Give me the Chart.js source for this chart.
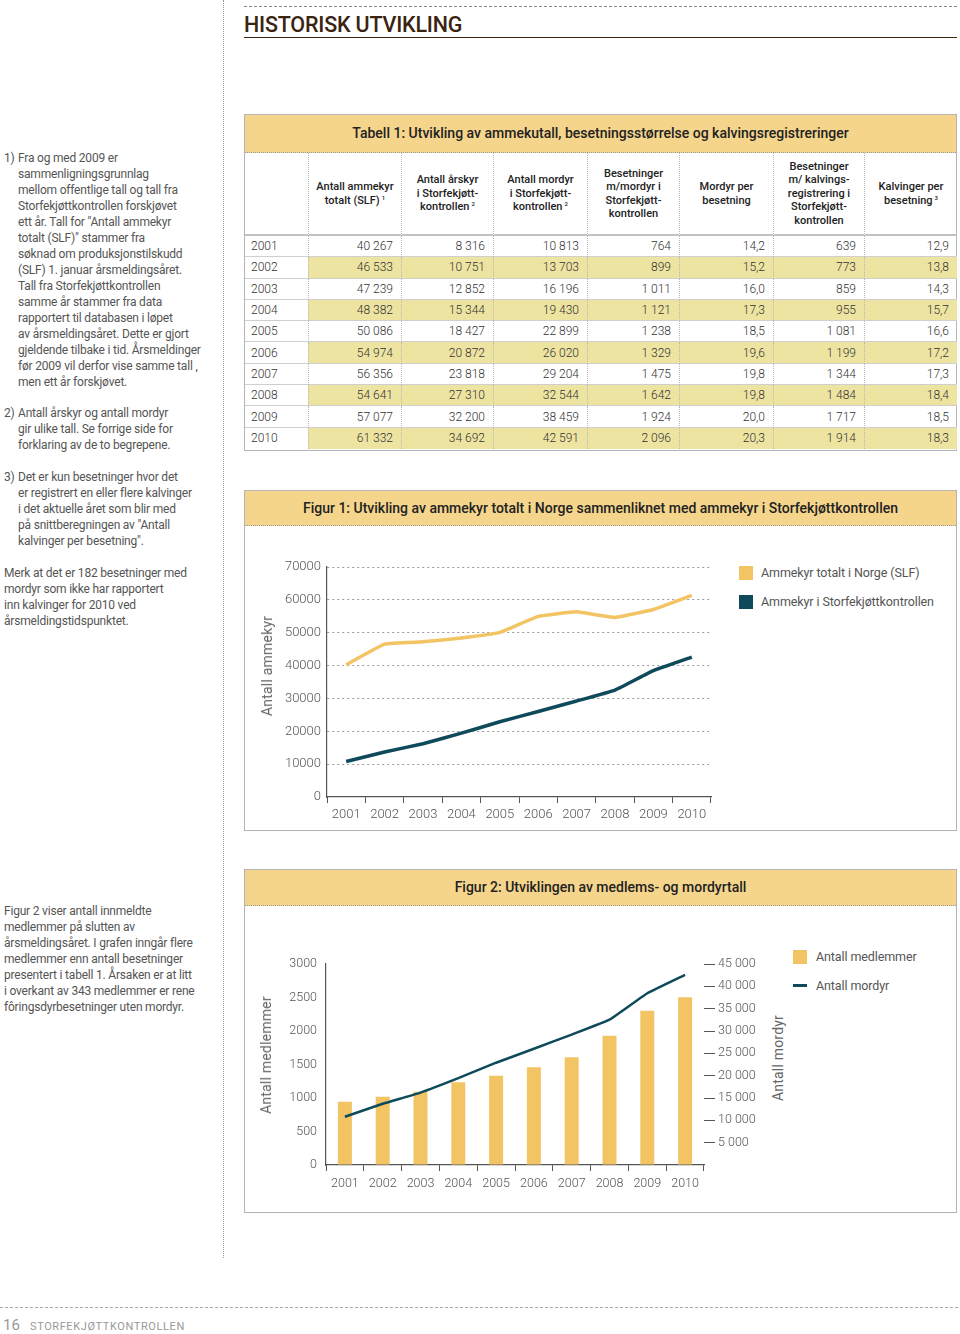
<!DOCTYPE html>
<html><head><meta charset="utf-8">
<script src="https://cdn.jsdelivr.net/npm/chart.js@4/dist/chart.umd.min.js"></script>
<style>
body{margin:0;width:960px;height:1334px;position:relative;background:#fff;font-family:Roboto,'Open Sans',sans-serif;overflow:hidden;color:#555}
.abs{position:absolute}
.txt{position:absolute;font-size:12px;line-height:16px;letter-spacing:-0.2px;color:#555;white-space:nowrap}
.txt .n{position:absolute;left:-14px}
.box{position:absolute;left:244px;width:713px;border:1.5px solid #b4b4b4;box-sizing:border-box;background:#fff}
.band{background:#f5d58c;border-bottom:1px dotted #999;text-align:center;color:#222;font-weight:500;font-size:14px;box-sizing:border-box}
#tbl{display:grid;grid-template-columns:63px 93px 92px 94px 92px 94px 91px 93px;grid-template-rows:83px repeat(10,21.3px)}
#tbl div{box-sizing:border-box;font-size:12px;color:#333;font-weight:300;display:flex;align-items:center;justify-content:flex-end;padding-right:8px}
#tbl div.h{font-size:11px;line-height:13.5px;font-weight:500;color:#222;justify-content:center;text-align:center;padding:0 2px;border-bottom:2px solid #c2c2c2}
#tbl div.yr{justify-content:flex-start;padding-left:6px}
#tbl div.d{border-bottom:1.5px solid #cfcfcf}
#tbl div.sep{border-left:1px dotted #b8b8b8}
#tbl div.alt{background:#eee4a2}
sup{font-size:6px;vertical-align:4px;line-height:0;margin-left:2px}
.leg{position:absolute;font-size:12.5px;color:#555;white-space:nowrap;letter-spacing:-0.1px}
.sw{position:absolute;width:14px;height:14px}
.atitle{position:absolute;font-size:14px;color:#666;white-space:nowrap;transform:translate(-50%,-50%) rotate(-90deg);letter-spacing:0.2px}
</style></head>
<body>
<!-- vertical dotted divider -->
<div class="abs" style="left:223px;top:0;height:1258px;border-left:1.5px dotted #999"></div>
<!-- header -->
<div class="abs" style="left:244px;top:6px;width:713px;border-top:1.5px dashed #888"></div>
<div class="abs" style="left:244px;top:12px;font-size:21.5px;font-weight:500;color:#3a2410;letter-spacing:-0.2px">HISTORISK UTVIKLING</div>
<div class="abs" style="left:244px;top:37px;width:713px;border-top:1.5px solid #3a2410"></div>

<!-- left notes -->
<div class="txt" style="left:18px;top:150px"><span class="n">1)</span>Fra og med 2009 er<br>sammenligningsgrunnlag<br>mellom offentlige tall og tall fra<br>Storfekjøttkontrollen forskjøvet<br>ett år. Tall for "Antall ammekyr<br>totalt (SLF)" stammer fra<br>søknad om produksjonstilskudd<br>(SLF) 1. januar årsmeldingsåret.<br>Tall fra Storfekjøttkontrollen<br>samme år stammer fra data<br>rapportert til databasen i løpet<br>av årsmeldingsåret. Dette er gjort<br>gjeldende tilbake i tid. Årsmeldinger<br>før 2009 vil derfor vise samme tall ,<br>men ett år forskjøvet.</div>
<div class="txt" style="left:18px;top:405px"><span class="n">2)</span>Antall årskyr og antall mordyr<br>gir ulike tall. Se forrige side for<br>forklaring av de to begrepene.</div>
<div class="txt" style="left:18px;top:469px"><span class="n">3)</span>Det er kun besetninger hvor det<br>er registrert en eller flere kalvinger<br>i det aktuelle året som blir med<br>på snittberegningen av "Antall<br>kalvinger per besetning".</div>
<div class="txt" style="left:4px;top:565px">Merk at det er 182 besetninger med<br>mordyr som ikke har rapportert<br>inn kalvinger for 2010 ved<br>årsmeldingstidspunktet.</div>
<div class="txt" style="left:4px;top:903px">Figur 2 viser antall innmeldte<br>medlemmer på slutten av<br>årsmeldingsåret. I grafen inngår flere<br>medlemmer enn antall besetninger<br>presentert i tabell 1. Årsaken er at litt<br>i overkant av 343 medlemmer er rene<br>fôringsdyrbesetninger uten mordyr.</div>

<!-- Table -->
<div class="box" style="top:114px;height:337px">
  <div class="band" style="height:38px;line-height:37px">Tabell 1: Utvikling av ammekutall, besetningsstørrelse og kalvingsregistreringer</div>
  <div id="tbl"></div>
</div>

<!-- Figure 1 -->
<div class="box" style="top:490px;height:341px">
  <div class="band" style="height:35px;line-height:34px">Figur 1: Utvikling av ammekyr totalt i Norge sammenliknet med ammekyr i Storfekjøttkontrollen</div>
</div>
<canvas id="c1" class="abs" style="left:250px;top:530px" width="470" height="300"></canvas>
<div class="atitle" style="left:267px;top:666px">Antall ammekyr</div>
<div class="sw" style="left:739px;top:566px;background:#f2c464"></div>
<div class="leg" style="left:761px;top:565px">Ammekyr totalt i Norge (SLF)</div>
<div class="sw" style="left:739px;top:595px;background:#0f4a5a"></div>
<div class="leg" style="left:761px;top:594px">Ammekyr i Storfekjøttkontrollen</div>

<!-- Figure 2 -->
<div class="box" style="top:869px;height:344px">
  <div class="band" style="height:36px;line-height:35px">Figur 2: Utviklingen av medlems- og mordyrtall</div>
</div>
<canvas id="c2" class="abs" style="left:250px;top:940px" width="520" height="260"></canvas>
<div class="atitle" style="left:266px;top:1055px">Antall medlemmer</div>
<div class="atitle" style="left:778px;top:1058px">Antall mordyr</div>
<div class="sw" style="left:793px;top:950px;background:#f2c464"></div>
<div class="leg" style="left:816px;top:949px">Antall medlemmer</div>
<div class="abs" style="left:793px;top:984px;width:14px;height:3px;background:#0f4a5a"></div>
<div class="leg" style="left:816px;top:978px">Antall mordyr</div>

<!-- footer -->
<div class="abs" style="left:0;top:1307px;width:958px;border-top:1.5px dashed #aaa"></div>
<div class="abs" style="left:3px;top:1316px;font-size:15px;color:#999">16</div>
<div class="abs" style="left:30px;top:1320px;font-size:11px;color:#999;letter-spacing:0.6px">STORFEKJØTTKONTROLLEN</div>

<script>
// ---- data ----
const years = ['2001','2002','2003','2004','2005','2006','2007','2008','2009','2010'];
const ammekyrTotalt = [40267, 46533, 47239, 48382, 50086, 54974, 56356, 54641, 57077, 61332];
const arskyr = [8316, 10751, 12852, 15344, 18427, 20872, 23818, 27310, 32200, 34692];
const mordyr = [10813, 13703, 16196, 19430, 22899, 26020, 29204, 32544, 38459, 42591];
const besetningerMordyr = [764, 899, 1011, 1121, 1238, 1329, 1475, 1642, 1924, 2096];
const mordyrPerBesetning = [14.2, 15.2, 16.0, 17.3, 18.5, 19.6, 19.8, 19.8, 20.0, 20.3];
const besetningerKalving = [639, 773, 859, 955, 1081, 1199, 1344, 1484, 1717, 1914];
const kalvingerPerBesetning = [12.9, 13.8, 14.3, 15.7, 16.6, 17.2, 17.3, 18.4, 18.5, 18.3];
const medlemmer = [945, 1019, 1094, 1234, 1333, 1458, 1607, 1930, 2303, 2503];
const fig1Ticks = [0, 10000, 20000, 30000, 40000, 50000, 60000, 70000];
const fig2LeftTicks = [0, 500, 1000, 1500, 2000, 2500, 3000];
const fig2RightTicks = [5000, 10000, 15000, 20000, 25000, 30000, 35000, 40000, 45000];
const tableHeaders = [
  '',
  'Antall ammekyr<br>totalt (SLF)<sup>1</sup>',
  'Antall årskyr<br>i Storfekjøtt-<br>kontrollen<sup>2</sup>',
  'Antall mordyr<br>i Storfekjøtt-<br>kontrollen<sup>2</sup>',
  'Besetninger<br>m/mordyr i<br>Storfekjøtt-<br>kontrollen',
  'Mordyr per<br>besetning',
  'Besetninger<br>m/ kalvings-<br>registrering i<br>Storfekjøtt-<br>kontrollen',
  'Kalvinger per<br>besetning<sup>3</sup>'
];

const YELLOW = '#f2c464';
const NAVY = '#0f4a5a';
const fmtInt = n => String(n).replace(/\B(?=(\d{3})+(?!\d))/g, ' ');
const fmtDec = n => n.toFixed(1).replace('.', ',');

// ---- table ----
(function(){
  const t = document.getElementById('tbl');
  tableHeaders.forEach((h,i)=>{
    const d = document.createElement('div');
    d.className = 'h' + (i>0?' sep':'');
    d.innerHTML = '<span>' + h + '</span>'; t.appendChild(d);
  });
  years.forEach((y,r)=>{
    const vals = [y, fmtInt(ammekyrTotalt[r]), fmtInt(arskyr[r]), fmtInt(mordyr[r]), fmtInt(besetningerMordyr[r]),
      fmtDec(mordyrPerBesetning[r]), fmtInt(besetningerKalving[r]), fmtDec(kalvingerPerBesetning[r])];
    vals.forEach((v,c)=>{
      const d = document.createElement('div');
      let cls = 'd';
      if (c===0) cls += ' yr'; else cls += ' sep';
      if (c>0 && r%2===1) cls += ' alt';
      if (r===9) d.style.borderBottom='none';
      d.className = cls; d.textContent = v; t.appendChild(d);
    });
  });
})();

const tickFont = {family:'Roboto', size:13, weight:300};
const plain = v => String(v);

// ---- Figure 1 ----
new Chart(document.getElementById('c1'), {
  type: 'line',
  data: { labels: years, datasets: [
    {label:'Ammekyr totalt i Norge (SLF)', data: ammekyrTotalt, borderColor: YELLOW, borderWidth: 3.5, pointRadius: 0, tension: 0.1, fill: false},
    {label:'Ammekyr i Storfekjøttkontrollen', data: mordyr, borderColor: NAVY, borderWidth: 3.5, pointRadius: 0, tension: 0.1, fill: false}
  ]},
  options: {
    responsive: false, animation: false, devicePixelRatio: 1,
    layout: {padding: {top: 37, right: 9, left: 0, bottom: 0}},
    plugins: {legend: {display: false}, tooltip: {enabled: false}},
    scales: {
      x: {offset: true,
        grid: {offset: true, drawOnChartArea: false, tickLength: 6, color: '#555'},
        border: {color: '#555', width: 1.2},
        ticks: {color: '#555', font: tickFont, padding: 4, maxRotation: 0, autoSkip: false},
        afterFit(s){ s.height = 33; }},
      y: {min: 0, max: 70000,
        afterBuildTicks(s){ s.ticks = fig1Ticks.map(v => ({value: v})); },
        grid: {color: c => (c.tick && c.tick.value === 0) ? 'rgba(0,0,0,0)' : '#9a9a9a', drawTicks: false},
        border: {color: '#555', width: 1.2, dash: [2, 3]},
        ticks: {color: '#555', font: tickFont, padding: 6, callback: plain},
        afterFit(s){ s.width = 77; }}
    }
  }
});

// ---- Figure 2 ----
new Chart(document.getElementById('c2'), {
  type: 'bar',
  data: { labels: years, datasets: [
    {type: 'line', label: 'Antall mordyr', data: mordyr, yAxisID: 'y2', borderColor: NAVY, borderWidth: 2.5, pointRadius: 0, tension: 0.1, fill: false, order: 0},
    {type: 'bar', label: 'Antall medlemmer', data: medlemmer, yAxisID: 'y', backgroundColor: YELLOW, categoryPercentage: 1, barPercentage: 0.37, order: 1}
  ]},
  options: {
    responsive: false, animation: false, devicePixelRatio: 1,
    layout: {padding: {top: 24, right: 0, left: 0, bottom: 0}},
    plugins: {legend: {display: false}, tooltip: {enabled: false}},
    scales: {
      x: {offset: true,
        grid: {offset: true, drawOnChartArea: false, tickLength: 6, color: '#555'},
        border: {color: '#555', width: 1.2},
        ticks: {color: '#555', font: {family:'Roboto', size:12.5, weight:300}, padding: 5, maxRotation: 0, autoSkip: false},
        afterFit(s){ s.height = 35; }},
      y: {position: 'left', min: 0, max: 3000,
        afterBuildTicks(s){ s.ticks = fig2LeftTicks.map(v => ({value: v})); },
        grid: {drawOnChartArea: false, drawTicks: false},
        border: {color: '#555', width: 1.2},
        ticks: {color: '#555', font: {family:'Roboto', size:12.5, weight:300}, padding: 9, callback: plain},
        afterFit(s){ s.width = 76; }},
      y2: {position: 'right', min: 0, max: 45000,
        afterBuildTicks(s){ s.ticks = fig2RightTicks.map(v => ({value: v})); },
        grid: {drawOnChartArea: false, drawTicks: true, tickLength: 11, color: '#555', lineWidth: 1},
        border: {display: false},
        ticks: {color: '#555', font: {family:'Roboto', size:12.5, weight:300}, padding: 3, callback: v => fmtInt(v)},
        afterFit(s){ s.width = 66; }}
    }
  }
});
</script>
</body></html>
